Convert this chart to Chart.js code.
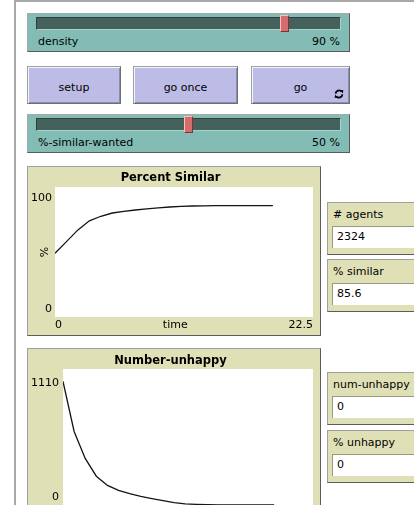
<!DOCTYPE html>
<html>
<head>
<meta charset="utf-8">
<script src="https://cdn.jsdelivr.net/npm/chart.js@4.4.1/dist/chart.umd.min.js"></script>
<style>
  html, body { margin: 0; padding: 0; }
  body { width: 414px; height: 505px; overflow: hidden; background: #fff; position: relative;
         font-family: 'DejaVu Sans', sans-serif; font-size: 11px; color: #000; }
  * { box-sizing: border-box; }
  .frame { position: absolute; left: 14px; top: 0; width: 420px; height: 530px;
           border-top: 2px solid #a8a8a8; border-left: 2px solid #a8a8a8; }
  .slider { position: absolute; left: 27px; width: 323px; height: 39px; background: #82bcb5;
            border: 1px solid; border-color: #a9a9a9 #5a5a5a #5a5a5a #a9a9a9; }
  .track { position: absolute; left: 8px; top: 3px; width: 305px; height: 13px; background: #45615c;
           border: 1px solid; border-color: #2e3f3c #a7d2cb #a7d2cb #2e3f3c; }
  .thumb { position: absolute; top: 1px; width: 9px; height: 17px; background: #d66c6c;
           border: 1px solid; border-color: #f2c2c2 #7a3535 #7a3535 #f2c2c2; }
  .slabel { position: absolute; left: 10px; top: 21px; line-height: 13px; white-space: nowrap; }
  .svalue { position: absolute; right: 9px; top: 21px; line-height: 13px; white-space: nowrap; }
  .btn { position: absolute; top: 66px; height: 38px; background: #bcbce6;
         border: 1px solid; border-color: #a0a0a0 #707070 #707070 #a0a0a0;
         box-shadow: inset 1px 1px 0 #f4f4ff, inset -1px -1px 0 #8c8cb0;
         display: flex; align-items: center; justify-content: center; padding-top: 5px; }
  .plot { position: absolute; left: 27px; width: 294px; background: #e0e0b7;
          border: 1px solid; border-color: #a0a0a0 #5c5c5c #5c5c5c #a0a0a0; }
  .plot canvas { display: block; }
  .monitor { position: absolute; left: 327px; width: 100px; height: 53px; background: #e0e0b7;
             border: 1px solid; border-color: #a0a0a0 #5c5c5c #5c5c5c #a0a0a0; }
  .mlabel { position: absolute; left: 5px; top: 5px; line-height: 13px; white-space: nowrap; }
  .mfield { position: absolute; left: 4px; top: 23px; width: 120px; height: 22px; background: #fff;
            border-top: 1px solid #9a9a80; border-left: 1px solid #9a9a80; }
  .mvalue { position: absolute; left: 4px; top: 3px; line-height: 13px; }
</style>
</head>
<body>
<div class="frame"></div>

<div class="slider" id="s1" style="top:13px">
  <div class="track"></div><div class="thumb"></div>
  <span class="slabel"></span><span class="svalue"></span>
</div>

<div class="btn" style="left:27px;width:94px">setup</div>
<div class="btn" style="left:133px;width:105px">go once</div>
<div class="btn" style="left:251px;width:99px">go
  <svg style="position:absolute;right:5px;bottom:4px" width="10" height="10" viewBox="0 0 10 10">
    <path d="M1.6 4.6 A3.4 3.4 0 0 1 7.6 2.6" stroke="#000" stroke-width="1.8" fill="none"/>
    <path d="M6.2 1 L9.4 1.2 L8.8 4.4 Z" fill="#000"/>
    <path d="M8.4 5.4 A3.4 3.4 0 0 1 2.4 7.4" stroke="#000" stroke-width="1.8" fill="none"/>
    <path d="M3.8 9 L0.6 8.8 L1.2 5.6 Z" fill="#000"/>
  </svg>
</div>

<div class="slider" id="s2" style="top:114px">
  <div class="track"></div><div class="thumb"></div>
  <span class="slabel"></span><span class="svalue"></span>
</div>

<div class="plot" style="top:166px;height:170px"><canvas id="c1" width="292" height="168"></canvas></div>
<div class="plot" style="top:348px;height:176px"><canvas id="c2" width="292" height="174"></canvas></div>

<div class="monitor" style="top:202px"><span class="mlabel"># agents</span><div class="mfield"><span class="mvalue" id="m1"></span></div></div>
<div class="monitor" style="top:259px"><span class="mlabel">% similar</span><div class="mfield"><span class="mvalue" id="m2"></span></div></div>
<div class="monitor" style="top:372px"><span class="mlabel">num-unhappy</span><div class="mfield"><span class="mvalue" id="m3"></span></div></div>
<div class="monitor" style="top:430px"><span class="mlabel">% unhappy</span><div class="mfield"><span class="mvalue" id="m4"></span></div></div>

<script>
// ---- data ----
const timeSteps      = [0, 1, 2, 3, 4, 5, 6, 7, 8, 9, 10, 11, 12, 13, 14, 15, 16, 17, 18, 19];
const percentSimilar = [49, 58, 67, 74, 77.5, 80, 81.3, 82.3, 83.2, 84, 84.6, 85.1, 85.4, 85.5, 85.6, 85.6, 85.6, 85.6, 85.6, 85.6];
const numberUnhappy  = [1009, 600, 380, 235, 160, 120, 92, 70, 52, 35, 20, 10, 5, 2, 1, 0, 0, 0, 0, 0];
const timeTicks      = [0, 22.5];
const similarTicks   = [0, 100];
const unhappyTicks   = [0, 1110];

const sliderNames  = ['density', '%-similar-wanted'];
const sliderValues = [90, 50];
const sliderMins   = [50, 0];
const sliderMaxs   = [99, 100];

const monitorValues = ['2324', '85.6', '0', '0'];

// ---- widgets ----
['s1', 's2'].forEach((id, i) => {
  const el = document.getElementById(id);
  const frac = (sliderValues[i] - sliderMins[i]) / (sliderMaxs[i] - sliderMins[i]);
  el.querySelector('.thumb').style.left = (8 + frac * 305 - 4.5) + 'px';
  el.querySelector('.slabel').textContent = sliderNames[i];
  el.querySelector('.svalue').textContent = sliderValues[i] + ' %';
});
monitorValues.forEach((v, i) => { document.getElementById('m' + (i + 1)).textContent = v; });

// ---- charts ----
const FONT = "'DejaVu Sans', sans-serif";
Chart.defaults.font.family = FONT;
Chart.defaults.font.size = 11;
Chart.defaults.color = '#000';

const plotBg = {
  id: 'plotBg',
  beforeDraw(chart) {
    const { ctx, chartArea: a } = chart;
    ctx.save();
    ctx.fillStyle = '#fff';
    ctx.fillRect(a.left, a.top, a.right - a.left, a.bottom - a.top);
    ctx.restore();
  }
};

function makePlot(canvasId, title, values, yTicks, opt) {
  const yMax = yTicks[yTicks.length - 1];
  return new Chart(document.getElementById(canvasId), {
    type: 'line',
    data: {
      datasets: [{
        data: timeSteps.map((t, i) => ({ x: t, y: values[i] })),
        borderColor: '#151515', borderWidth: 1.3, pointRadius: 0, tension: 0, fill: false
      }]
    },
    options: {
      responsive: false, animation: false, events: [],
      layout: { padding: { left: 0, right: 7, top: 0, bottom: 0 } },
      plugins: {
        legend: { display: false }, tooltip: { enabled: false },
        title: { display: true, text: title, color: '#000',
                 font: { family: FONT, size: 11.5, weight: 'bold', lineHeight: '13px' },
                 padding: opt.titlePad }
      },
      scales: {
        x: {
          type: 'linear', min: timeTicks[0], max: timeTicks[timeTicks.length - 1],
          grid: { display: false, drawTicks: false }, border: { display: false },
          afterBuildTicks: s => { s.ticks = timeTicks.map(v => ({ value: v })); },
          ticks: { align: 'inner', maxRotation: 0, autoSkip: false, padding: 2, color: '#000',
                   font: { family: FONT, size: 11 }, callback: v => String(v) },
          title: { display: !!opt.xTitle, text: opt.xTitle || '', color: '#000',
                   font: { family: FONT, size: 11 }, padding: { top: 0, bottom: 3 } },
          afterFit: s => { s.height = 18; s.paddingLeft = 0; s.paddingRight = 0; }
        },
        y: {
          min: yTicks[0], max: yMax,
          grid: { display: false, drawTicks: false }, border: { display: false },
          afterBuildTicks: s => { s.ticks = yTicks.map(v => ({ value: v })); },
          ticks: {
            padding: opt.yPad, color: '#000', autoSkip: false,
            font: c => ({ family: FONT, size: 11,
                          lineHeight: (c.tick && c.tick.value === yMax) ? opt.topLH : '15px' }),
            callback: v => (v === yMax ? ['', String(v)] : [String(v), ''])
          },
          title: { display: !!opt.yTitle, text: opt.yTitle || '', color: '#000',
                   font: { family: FONT, size: 11 }, padding: { top: 10.5, bottom: 0 } },
          afterFit: s => { s.width = opt.yWidth; s.paddingTop = 0; s.paddingBottom = 0; }
        }
      }
    },
    plugins: [plotBg]
  });
}

makePlot('c1', 'Percent Similar', percentSimilar, similarTicks,
  { titlePad: { top: 5, bottom: 2 }, xTitle: 'time\u00a0\u00a0\u00a0\u00a0\u00a0', yTitle: '%',
    yPad: 3, topLH: '23px', yWidth: 27 });
makePlot('c2', 'Number-unhappy', numberUnhappy, unhappyTicks,
  { titlePad: { top: 6, bottom: 1 }, xTitle: '', yTitle: '',
    yPad: 4, topLH: '28px', yWidth: 35 });
</script>
</body>
</html>
